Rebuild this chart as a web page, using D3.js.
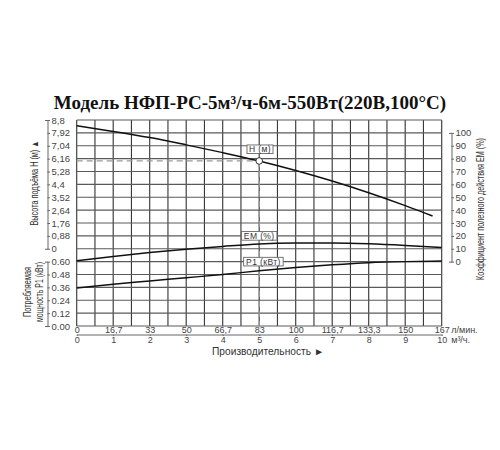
<!DOCTYPE html>
<html><head><meta charset="utf-8">
<script src="https://cdn.jsdelivr.net/npm/d3@7"></script>
<style>body{margin:0;background:#fff} svg{display:block}</style>
</head><body><svg id="c" width="500" height="450"></svg>
<script>
const title = "Модель НФП-РС-5м³/ч-6м-550Вт(220В,100°С)";
const flowH = [0,1,2,3,4,5,6,7,8,9,9.75];
const headH = [8.4,8.02,7.6,7.1,6.57,6.0,5.35,4.63,3.83,2.95,2.24];
const flowQ = [0,1,2,3,4,5,6,7,8,9,10];
const effEM = [0.7,4.0,7.0,9.6,11.8,13.7,14.4,14.5,13.9,12.6,10.9];
const powerP1 = [0.355,0.39,0.42,0.45,0.48,0.515,0.545,0.57,0.59,0.60,0.605];
const xTicks = [0,1,2,3,4,5,6,7,8,9,10];
const litreLabels = ["0","16,7","33","50","66,7","83","100","116,7","133,3","150","167"];
const hTicks = [0,0.88,1.76,2.64,3.52,4.4,5.28,6.16,7.04,7.92,8.8];
const hTickLabels = ["0","0,88","1,76","2,64","3,52","4,4","5,28","6,16","7,04","7,92","8,8"];
const p1Ticks = [0,0.12,0.24,0.36,0.48,0.60];
const p1TickLabels = ["0.00","0.12","0.24","0.36","0.48","0.60"];
const emTicks = [0,10,20,30,40,50,60,70,80,90,100];
const dutyQ = 5, dutyH = 6;

const svg = d3.select("#c");
const sans = "'Liberation Sans', Arial, sans-serif";
const narrow = "'Liberation Sans Narrow', 'Arial Narrow', 'Liberation Sans', sans-serif";

const x = d3.scaleLinear().domain([0,10]).range([76.7,441.7]);
const row = d3.scaleLinear().domain([0,16]).range([120,326]);
const yH = d3.scaleLinear().domain([0,8.8]).range([row(10),row(0)]);
const yP = d3.scaleLinear().domain([0,0.6]).range([row(16),row(11)]);
const yE = d3.scaleLinear().domain([0,100]).range([row(11),row(1)]);

// title
svg.append("text").attr("x",250).attr("y",109).attr("text-anchor","middle")
  .attr("font-family","'Liberation Serif','Times New Roman',serif").attr("font-weight","bold")
  .attr("font-size",19).attr("fill","#111").text(title);

// grid
const grid = svg.append("g");
grid.selectAll("line.v").data(d3.range(0,10.01,0.5)).join("line")
  .attr("x1",d=>x(d)).attr("x2",d=>x(d)).attr("y1",row(0)).attr("y2",row(16))
  .attr("stroke","#3a3a3a").attr("stroke-width",1.15);
grid.selectAll("line.h").data(d3.range(0,17)).join("line")
  .attr("y1",d=>row(d)).attr("y2",d=>row(d)).attr("x1",x(0)).attr("x2",x(10))
  .attr("stroke","#5a5a5a").attr("stroke-width",1.15);

function styleAxis(size){
  return g=>{
    g.selectAll("text").attr("font-family",sans).attr("font-size",size).attr("fill","#444");
    g.selectAll("line,path").attr("stroke","#666");
  };
}
// left axes
svg.append("g").attr("transform","translate(47.5,0)")
  .call(d3.axisRight(yH).tickValues(hTicks).tickFormat((d,i)=>hTickLabels[i]).tickSize(2.5).tickSizeOuter(-2.5).tickPadding(1.5))
  .call(styleAxis(9.5));
svg.append("g").attr("transform","translate(47.5,0)")
  .call(d3.axisRight(yP).tickValues(p1Ticks).tickFormat((d,i)=>p1TickLabels[i]).tickSize(2.5).tickSizeOuter(-2.5).tickPadding(1.5))
  .call(styleAxis(9.5));
// right axis
svg.append("g").attr("transform","translate(451.5,0)")
  .call(d3.axisRight(yE).tickValues(emTicks).tickSize(2.5).tickSizeOuter(-2.5).tickPadding(1.5))
  .call(styleAxis(9.5));

// x axes
const xa1 = svg.append("g").attr("transform",`translate(0,${row(16)})`)
  .call(d3.axisBottom(x).tickValues(xTicks).tickFormat((d,i)=>litreLabels[i]).tickSize(0).tickPadding(0.5))
  .call(styleAxis(9));
xa1.select(".domain").remove();
svg.append("g").attr("transform","translate(0,334.5)")
  .call(d3.axisBottom(x).tickValues(xTicks).tickSize(1.5).tickSizeOuter(0).tickPadding(0.5))
  .call(styleAxis(9));
svg.append("text").attr("x",x(10)+9.5).attr("y",333).attr("font-family",sans).attr("font-size",9).attr("fill","#444").text("л/мин.");
svg.append("text").attr("x",x(10)+9.5).attr("y",343).attr("font-family",sans).attr("font-size",9).attr("fill","#444").text("м³/ч.");
svg.append("text").attr("x",212).attr("y",355).attr("font-family",sans).attr("font-size",10).attr("fill","#333")
  .attr("textLength",112).attr("lengthAdjust","spacingAndGlyphs").text("Производительность ►");

// axis titles
function vtext(cx,cy,txt,len,size){
  svg.append("text").attr("transform",`translate(${cx},${cy}) rotate(-90)`).attr("text-anchor","middle")
    .attr("dy","0.35em").attr("font-family",narrow).attr("font-size",size).attr("fill","#333")
    .attr("textLength",len).attr("lengthAdjust","spacingAndGlyphs").text(txt);
}
vtext(34,183,"Высота подъёма H (м) ▲",85,10);
vtext(27,292,"Потребляемая",50,10);
vtext(39.5,292,"мощность P1 (кВт)",60,10);
vtext(480,209,"Коэффициент полезного действия EM (%)",142,10);

// duty point dashed lines
svg.append("line").attr("x1",x(0)).attr("x2",x(dutyQ)).attr("y1",yH(dutyH)).attr("y2",yH(dutyH))
  .attr("stroke","#999").attr("stroke-width",1.3).attr("stroke-dasharray","6,4");
svg.append("line").attr("x1",x(dutyQ)).attr("x2",x(dutyQ)).attr("y1",yH(dutyH)).attr("y2",row(16))
  .attr("stroke","#999").attr("stroke-width",1.3).attr("stroke-dasharray","6,4");

// curves
const mk = (ys)=>d3.line().x(d=>x(d[0])).y(d=>ys(d[1])).curve(d3.curveMonotoneX);
svg.append("path").attr("d",mk(yH)(d3.zip(flowH,headH))).attr("fill","none").attr("stroke","#111").attr("stroke-width",1.5);
svg.append("path").attr("d",mk(yE)(d3.zip(flowQ,effEM))).attr("fill","none").attr("stroke","#111").attr("stroke-width",1.5);
svg.append("path").attr("d",mk(yP)(d3.zip(flowQ,powerP1))).attr("fill","none").attr("stroke","#111").attr("stroke-width",1.5);

svg.append("circle").attr("cx",x(dutyQ)).attr("cy",yH(dutyH)).attr("r",3.3)
  .attr("fill","#fff").attr("stroke","#333").attr("stroke-width",1);

// curve labels
function tag(cx,cy,txt,w){
  svg.append("rect").attr("x",cx-w/2).attr("y",cy-4.3).attr("width",w).attr("height",8.6)
    .attr("fill","#fff").attr("stroke","#666").attr("stroke-width",0.9);
  svg.append("text").attr("x",cx).attr("y",cy).attr("dy","0.35em").attr("text-anchor","middle")
    .attr("font-family",sans).attr("font-size",8.5).attr("letter-spacing",0.4).attr("fill","#333").text(txt);
}
tag(x(dutyQ)+0.8,yH(6.8),"H (м)",26);
tag(x(dutyQ),yE(20),"EM (%)",35.5);
tag(x(dutyQ)+4.2,yP(0.6),"P1 (кВт)",39.5);
</script></body></html>
